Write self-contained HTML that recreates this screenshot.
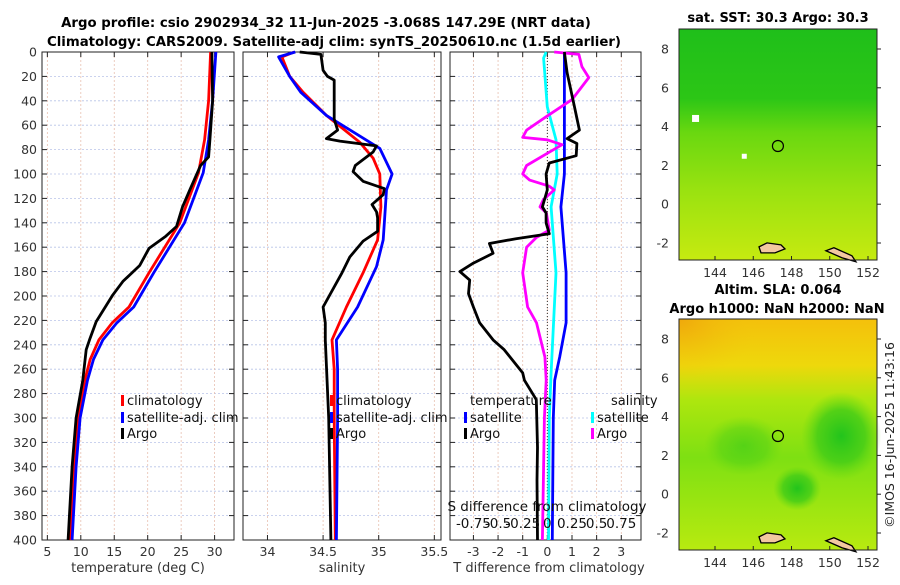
<!DOCTYPE html>
<html><head><meta charset="utf-8"><style>
body{margin:0;background:#fff;width:900px;height:580px;overflow:hidden;font-family:"Liberation Sans","DejaVu Sans",sans-serif}
svg text{font-family:"DejaVu Sans","Liberation Sans",sans-serif}
</style></head><body>
<svg id="chart" width="900" height="580" viewBox="0 0 900 580" xmlns="http://www.w3.org/2000/svg">
<defs>
<linearGradient id="sstg" x1="0" y1="0" x2="0" y2="1">
<stop offset="0" stop-color="#1fbf1a"/><stop offset="0.3" stop-color="#2cc616"/><stop offset="0.45" stop-color="#6ad810"/><stop offset="0.7" stop-color="#9ae210"/><stop offset="1" stop-color="#c6ea10"/></linearGradient>
<linearGradient id="slag" x1="0" y1="0" x2="0" y2="1">
<stop offset="0" stop-color="#f4c00c"/><stop offset="0.2" stop-color="#eed80c"/><stop offset="0.35" stop-color="#aee60e"/><stop offset="0.6" stop-color="#7ee012"/><stop offset="1" stop-color="#b8ea10"/></linearGradient>
<radialGradient id="blob" cx="0.5" cy="0.5" r="0.5"><stop offset="0" stop-color="#22c41c"/><stop offset="0.6" stop-color="#40cc18" stop-opacity="0.8"/><stop offset="1" stop-color="#60d814" stop-opacity="0"/></radialGradient>
<radialGradient id="orng" cx="0" cy="0" r="1"><stop offset="0" stop-color="#f0a80c"/><stop offset="1" stop-color="#f0c80c" stop-opacity="0"/></radialGradient>
</defs>
<text x="326" y="27" text-anchor="middle" font-size="13.3" font-weight="bold">Argo profile: csio 2902934_32 11-Jun-2025 -3.068S 147.29E (NRT data)</text>
<text x="334" y="46" text-anchor="middle" font-size="13.3" font-weight="bold">Climatology: CARS2009. Satellite-adj clim: synTS_20250610.nc (1.5d earlier)</text>
<g id="p1"></g>
<g id="p2"></g>
<g id="p3"></g>
<g id="m1"></g>
<g id="m2"></g>
<text x="778" y="22" text-anchor="middle" font-size="13" font-weight="bold">sat. SST: 30.3 Argo: 30.3</text>
<text x="778" y="294" text-anchor="middle" font-size="13" font-weight="bold">Altim. SLA: 0.064</text>
<text x="777" y="313" text-anchor="middle" font-size="13" font-weight="bold">Argo h1000: NaN h2000: NaN</text>
<text transform="translate(894,435) rotate(-90)" text-anchor="middle" font-size="12.5" fill="#222">©IMOS 16-Jun-2025 11:43:16</text>
</svg>
<script>
// ---------- data ----------
const tClimDepth=[0,40,72,99,140,181,209,222,236,252,269,300,340,400];
const tClimVals=[29.4,29.1,28.5,27.6,24.8,20.2,17.2,14.7,12.7,11.4,10.6,9.6,9.0,8.4];
const tSatVals=[30.2,29.7,29.1,28.3,25.5,20.9,17.9,15.4,13.3,11.9,11.0,9.9,9.3,8.7];
const tArgoDepth=[0,40,72,86,93,113,127,143,151,161,175,188,199,221,236,244,269,300,340,400];
const tArgoVals=[29.6,29.7,29.3,29.1,27.9,26.3,25.2,24.3,22.7,20.2,18.8,16.3,14.8,12.3,11.3,10.8,10.3,9.3,8.7,8.1];
const sClimDepth=[0,4,20,33,52,74,87,100,127,154,181,209,236,260,300,400];
const sClimVals=[34.24,34.13,34.2,34.32,34.53,34.83,34.95,35.01,35.02,34.99,34.86,34.71,34.58,34.6,34.6,34.61];
const sSatDepth=[0,4,20,33,52,79,100,113,127,154,176,209,236,260,300,400];
const sSatVals=[34.25,34.1,34.2,34.3,34.53,35.01,35.12,35.07,35.06,35.04,34.98,34.81,34.62,34.63,34.63,34.62];
const sArgoDepth=[0,2,15,20,23,55,64,71,73,77,82,93,98,106,112,117,125,131,136,147,155,168,181,209,222,236,300,400];
const sArgoVals=[34.29,34.48,34.5,34.54,34.6,34.6,34.63,34.53,34.65,34.98,34.95,34.79,34.77,34.86,35.05,35.04,34.94,34.98,34.99,34.99,34.86,34.74,34.67,34.5,34.52,34.52,34.55,34.57];
const dTSatDepth=[0,45,100,127,181,222,250,269,300,400];
const dTSatVals=[0.69,0.69,0.69,0.55,0.76,0.76,0.5,0.3,0.24,0.2];
const dTArgoDepth=[0,17,45,64,71,75,85,91,100,113,127,132,140,149,153,157,165,173,180,187,198,209,222,236,244,263,269,285,324,351,400];
const dTArgoVals=[0.69,0.8,1.1,1.3,0.8,1.2,1.17,0.08,-0.05,0,-0.2,-0.05,-0.05,0.08,-1.27,-2.35,-2.2,-3.0,-3.55,-3.15,-3.2,-3.0,-2.75,-2.2,-1.75,-1.0,-0.93,-0.45,-0.4,-0.42,-0.4];
const dSSatDepth=[0,5,45,72,100,127,181,263,300,400];
const dSSatVals=[-0.012,-0.038,0,0.088,0.1,0.038,0.088,0.038,0.02,0.012];
const dSArgoDepth=[0,2,12,21,39,53,64,70,72,76,83,93,100,105,110,113,121,127,132,146,152,160,181,209,222,250,269,300,400];
const dSArgoVals=[0.07,0.32,0.35,0.42,0.25,-0.012,-0.21,-0.25,0,0.15,0,-0.21,-0.25,-0.18,0.02,0.07,-0.04,-0.075,-0.01,0.02,-0.11,-0.21,-0.25,-0.2,-0.11,-0.025,-0.012,-0.03,-0.05];
const depthTicks=[0,20,40,60,80,100,120,140,160,180,200,220,240,260,280,300,320,340,360,380,400];
const tTicks=[5,10,15,20,25,30];
const sTicks=[34,34.5,35,35.5];
const dTTicks=[-3,-2,-1,0,1,2,3];
const dSTickLabels=["-0.75","-0.5","-0.25","0","0.25","0.5","0.75"];
const lonTicks=[144,146,148,150,152];
const latTicks=[-2,0,2,4,6,8];
// ---------- helpers ----------
const NS="http://www.w3.org/2000/svg";
function mk(parent,tag,attrs){const e=document.createElementNS(NS,tag);for(const k in attrs)e.setAttribute(k,attrs[k]);parent.appendChild(e);return e;}
const Y0=52,Y1=540;
const yD=d=>Y0+(d/400)*(Y1-Y0);
function lin(d0,d1,r0,r1){return v=>r0+(v-d0)/(d1-d0)*(r1-r0);}
function panel(g,x0,x1,xs,xticks,xlabels,showY){
  for(const d of depthTicks){const l=mk(g,'line',{x1:x0,x2:x1,y1:yD(d),y2:yD(d),stroke:'#b8c4e8','stroke-width':0.8,'stroke-dasharray':'2,2'});
    
    mk(g,'line',{x1:x0,x2:x0+5,y1:yD(d),y2:yD(d),stroke:'#222'});mk(g,'line',{x1:x1-5,x2:x1,y1:yD(d),y2:yD(d),stroke:'#222'});
    if(showY){const t=mk(g,'text',{x:x0-5,y:yD(d)+4.5,'text-anchor':'end','font-size':12.5,fill:'#333'});t.textContent=d;
      }}
  xticks.forEach((v,i)=>{const x=xs(v);const l=mk(g,'line',{x1:x,x2:x,y1:Y0,y2:Y1,stroke:'#e8c0b0','stroke-width':0.8,'stroke-dasharray':'2,2'});
    
    mk(g,'line',{x1:x,x2:x,y1:Y1,y2:Y1-5,stroke:'#222'});mk(g,'line',{x1:x,x2:x,y1:Y0,y2:Y0+5,stroke:'#222'});
    const t=mk(g,'text',{x:x,y:556,'text-anchor':'middle','font-size':12.5,fill:'#333'});t.textContent=xlabels[i];
    });
  const b=mk(g,'rect',{x:x0,y:Y0,width:x1-x0,height:Y1-Y0,fill:'none',stroke:'#222','stroke-width':1});
  
}
function line(g,xs,depths,vals,color,name,w){
  const pts=depths.map((d,i)=>xs(vals[i]).toFixed(1)+','+yD(d).toFixed(1)).join(' ');
  const p=mk(g,'polyline',{points:pts,fill:'none',stroke:color,'stroke-width':w||2.8,'stroke-linejoin':'round'});
  
}
function txt(g,x,y,s,name,opts){const t=mk(g,'text',Object.assign({x:x,y:y,'font-size':13,fill:'#111'},opts||{}));t.textContent=s;
  return t;}
function legendItem(g,x,y,color,label){const r=mk(g,'rect',{x:x,y:y-10,width:3,height:11,fill:color});
  
  txt(g,x+6,y,label,'legend-entry');}
// ---------- panel 1 ----------
const p1=document.getElementById('p1');
const xT=lin(4.2,32.9,42,234);
panel(p1,42,234,xT,tTicks,tTicks.map(String),true);
line(p1,xT,tClimDepth,tClimVals,'#f00','temp-climatology-line');
line(p1,xT,tClimDepth,tSatVals,'#00f','temp-satellite-line');
line(p1,xT,tArgoDepth,tArgoVals,'#000','temp-argo-line');
legendItem(p1,121,405,'#f00','climatology');legendItem(p1,121,422,'#00f','satellite-adj. clim');legendItem(p1,121,438,'#000','Argo');
txt(p1,138,572,'temperature (deg C)','x-axis-title',{'text-anchor':'middle',fill:'#333'});
// ---------- panel 2 ----------
const p2=document.getElementById('p2');
const xS=lin(33.78,35.56,243,441);
panel(p2,243,441,xS,sTicks,sTicks.map(String),false);
line(p2,xS,sClimDepth,sClimVals,'#f00','sal-climatology-line');
line(p2,xS,sSatDepth,sSatVals,'#00f','sal-satellite-line');
line(p2,xS,sArgoDepth,sArgoVals,'#000','sal-argo-line');
legendItem(p2,330,405,'#f00','climatology');legendItem(p2,330,422,'#00f','satellite-adj. clim');legendItem(p2,330,438,'#000','Argo');
txt(p2,342,572,'salinity','x-axis-title',{'text-anchor':'middle',fill:'#333'});
// ---------- panel 3 ----------
const p3=document.getElementById('p3');
const xD=lin(-3.95,3.8,450,641);
const xDS=v=>xD(v*4);
panel(p3,450,641,xD,dTTicks,dTTicks.map(String),false);
const z=mk(p3,'line',{x1:xD(0),x2:xD(0),y1:Y0,y2:Y1,stroke:'#333','stroke-dasharray':'1,2'});

line(p3,xD,dTSatDepth,dTSatVals,'#00f','dT-satellite-line');
line(p3,xDS,dSSatDepth,dSSatVals,'#0ff','dS-satellite-line');
line(p3,xDS,dSArgoDepth,dSArgoVals,'#f0f','dS-argo-line');
line(p3,xD,dTArgoDepth,dTArgoVals,'#000','dT-argo-line');
txt(p3,470,405,'temperature','legend-title');txt(p3,611,405,'salinity','legend-title');
legendItem(p3,464,422,'#00f','satellite');legendItem(p3,464,438,'#000','Argo');
legendItem(p3,591,422,'#0ff','satellite');legendItem(p3,591,438,'#f0f','Argo');
txt(p3,547,511,'S difference from climatology','s-axis-title',{'text-anchor':'middle','font-size':13.5});
dSTickLabels.forEach((s,i)=>txt(p3,xD(-3+i),528,s,'s-tick-label',{'text-anchor':'middle','font-size':13.5}));
txt(p3,549,572,'T difference from climatology','x-axis-title',{'text-anchor':'middle',fill:'#333'});
// ---------- maps ----------
function map(id,top,grad,extra){
  const g=document.getElementById(id);const L=679,R=877,T=top,B=top+231;
  const lx=lin(144,152,715,868),ly=lin(8,-2,T+20,T+214);
  const bg=mk(g,'rect',{x:L,y:T,width:R-L,height:B-T,fill:'url(#'+grad+')'});
  
  extra(g,lx,ly);
  const isl=mk(g,'path',{d:`M${lx(146.3)} ${ly(-2.2)} l8 -4 l14 2 l4 4 l-10 4 l-14 0 z M${lx(149.8)} ${ly(-2.4)} l8 -3 l18 8 l4 6 l-14 -4 z`,fill:'#f2c8a0',stroke:'#000','stroke-width':1.3});
  
  const c=mk(g,'circle',{cx:lx(147.29),cy:ly(3.0),r:5.5,fill:'none',stroke:'#000','stroke-width':1.2});
  
  mk(g,'rect',{x:L,y:T,width:R-L,height:B-T,fill:'none',stroke:'#222'});
  lonTicks.forEach(v=>{mk(g,'line',{x1:lx(v),x2:lx(v),y1:B,y2:B-4,stroke:'#222'});
    txt(g,lx(v),B+17,String(v),'lon-tick-label',{'text-anchor':'middle','font-size':12.5,fill:'#333'});});
  latTicks.forEach(v=>{mk(g,'line',{x1:R,x2:R+4,y1:ly(v),y2:ly(v),stroke:'#222'});
    txt(g,L-10,ly(v)+4.5,String(v),'lat-tick-label',{'text-anchor':'end','font-size':12.5,fill:'#333'});});
}
map('m1',29,'sstg',(g,lx,ly)=>{mk(g,'rect',{x:lx(142.8),y:ly(4.6),width:7,height:7,fill:'#fff'});mk(g,'rect',{x:lx(145.4),y:ly(2.6),width:5,height:5,fill:'#fff'});});
map('m2',319,'slag',(g,lx,ly)=>{mk(g,'ellipse',{cx:lx(150.6),cy:ly(3),rx:40,ry:44,fill:'url(#blob)'});mk(g,'ellipse',{cx:lx(148.3),cy:ly(0.3),rx:24,ry:22,fill:'url(#blob)'});mk(g,'ellipse',{cx:lx(145.5),cy:ly(2.5),rx:40,ry:30,fill:'url(#blob)',opacity:0.5});mk(g,'rect',{x:679,y:319,width:80,height:60,fill:'url(#orng)'});});
</script>
</body></html>
